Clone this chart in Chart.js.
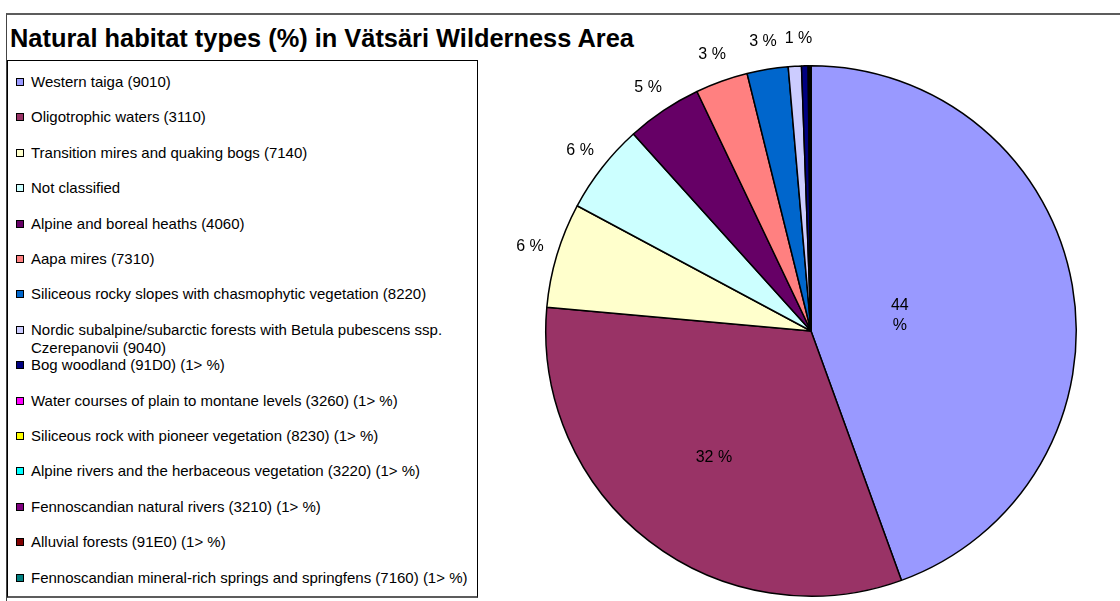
<!DOCTYPE html>
<html>
<head>
<meta charset="utf-8">
<script src="https://cdn.jsdelivr.net/npm/chart.js@4/dist/chart.umd.min.js"></script>
<style>
  body { margin: 0; background: #fff; font-family: "Liberation Sans", Arial, sans-serif; }
  #wrap { position: relative; width: 1120px; height: 601px; overflow: hidden; }
  #frame { position: absolute; left: 6px; top: 13px; width: 1120px; height: 600px;
           border-top: 2px solid #5c5c5c; border-left: 1px solid #444; }
  #title { position: absolute; left: 10px; top: 24px; font-weight: bold; font-size: 25.4px;
           white-space: nowrap; color: #000; }
  #legend { position: absolute; left: 7px; top: 60px; width: 469px; height: 535px;
            border: 1px solid #000; border-bottom: 2px solid #5c5c5c; }
  .item { position: absolute; left: 0; font-size: 15px; line-height: 18px; white-space: nowrap; }
  .box { position: absolute; left: 8px; width: 6px; height: 6px; border: 1px solid #000; }
  .txt { position: absolute; left: 23px; }
  canvas { position: absolute; left: 0; top: 0; }
</style>
</head>
<body>
<div id="wrap">
  <div id="frame"></div>
  <div id="title">Natural habitat types (%) in Vätsäri Wilderness Area</div>
  <div id="legend"></div>
  <canvas id="pieChart" width="1120" height="601"></canvas>
</div>
<script>
const categories = [
  "Western taiga (9010)",
  "Oligotrophic waters (3110)",
  "Transition mires and quaking bogs (7140)",
  "Not classified",
  "Alpine and boreal heaths (4060)",
  "Aapa mires (7310)",
  "Siliceous rocky slopes with chasmophytic vegetation (8220)",
  ["Nordic subalpine/subarctic forests with Betula pubescens ssp.", "Czerepanovii (9040)"],
  "Bog woodland (91D0) (1> %)",
  "Water courses of plain to montane levels (3260) (1> %)",
  "Siliceous rock with pioneer vegetation (8230) (1> %)",
  "Alpine rivers and the herbaceous vegetation (3220) (1> %)",
  "Fennoscandian natural rivers (3210) (1> %)",
  "Alluvial forests (91E0) (1> %)",
  "Fennoscandian mineral-rich springs and springfens (7160) (1> %)",
];

// share of area, %
const shares = [44.45, 31.95, 6.4, 5.5, 4.6, 3.2, 2.5, 0.8, 0.4, 0.05, 0.03, 0.03, 0.03, 0.02, 0.01];

const colors = [
  "#9999FF", "#993366", "#FFFFCC", "#CCFFFF", "#660066", "#FF8080", "#0066CC", "#CCCCFF",
  "#000080", "#FF00FF", "#FFFF00", "#00FFFF", "#800080", "#800000", "#008080",
];

// legend (html, so the long label can sit on two lines like the original)
const legend = document.getElementById("legend");
categories.forEach((cat, i) => {
  const y = 21 + i * 35.4; // row centre inside the box
  const item = document.createElement("div");
  item.className = "item";
  item.style.top = (y - 9) + "px";
  const box = document.createElement("div");
  box.className = "box";
  box.style.top = "5px";
  box.style.background = colors[i];
  const txt = document.createElement("div");
  txt.className = "txt";
  txt.innerHTML = [].concat(cat).join("<br>");
  item.appendChild(box);
  item.appendChild(txt);
  legend.appendChild(item);
});

// percent labels: outside for small slices, inside for the two big ones
const pieLabels = {
  id: "pieLabels",
  afterDatasetsDraw(chart) {
    const ctx = chart.ctx;
    const meta = chart.getDatasetMeta(0);
    ctx.save();
    ctx.font = "16px 'Liberation Sans', Arial, sans-serif";
    ctx.fillStyle = "#000";
    ctx.textAlign = "center";
    ctx.textBaseline = "middle";
    let prevRight = null;
    meta.data.forEach((arc, i) => {
      const v = shares[i];
      if (v < 0.75) return;
      const mid = (arc.startAngle + arc.endAngle) / 2;
      let r;
      if (i === 0) r = arc.outerRadius * 0.34;
      else if (i === 1) r = arc.outerRadius * 0.6;
      else r = arc.outerRadius + 28;
      let x = arc.x + Math.cos(mid) * r;
      const y = arc.y + Math.sin(mid) * r;
      if (i === 0) {
        ctx.fillText(Math.round(v), x, y - 10);
        ctx.fillText("%", x, y + 10);
        return;
      }
      const txt = Math.round(v) + " %";
      const w = ctx.measureText(txt).width;
      // push a top label right if it would touch the one before it
      if (i > 1 && prevRight !== null && y < arc.y - r * 0.9 && x - w / 2 < prevRight + 8) {
        x = prevRight + 8 + w / 2;
      }
      ctx.fillText(txt, x, y);
      prevRight = x + w / 2;
    });
    ctx.restore();
  },
};

const pieChart = new Chart(document.getElementById("pieChart").getContext("2d"), {
  type: "pie",
  data: {
    labels: categories.map((c) => [].concat(c).join(" ")),
    datasets: [
      {
        data: shares,
        backgroundColor: colors,
        borderColor: "#000",
        borderWidth: 1.5,
      },
    ],
  },
  options: {
    responsive: false,
    animation: false,
    layout: { padding: { left: 545, right: 43, top: 65, bottom: 4 } },
    plugins: {
      legend: { display: false },
      title: { display: false },
      tooltip: { enabled: false },
    },
  },
  plugins: [pieLabels],
});
</script>
</body>
</html>
